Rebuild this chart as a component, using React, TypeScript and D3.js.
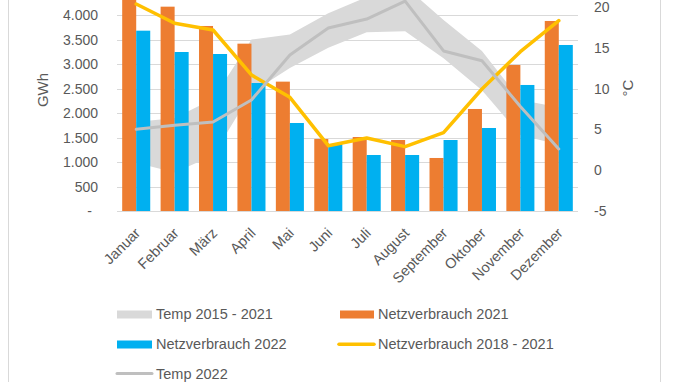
import React from "react";
import * as d3 from "d3";

const months = ["Januar","Februar","März","April","Mai","Juni","Juli","August","September","Oktober","November","Dezember"];
const netz2021 = [4400, 4170, 3776, 3415, 2640, 1470, 1510, 1449, 1082, 2082, 2980, 3878];
const netz2022 = [3680, 3245, 3204, 2612, 1796, 1365, 1143, 1143, 1449, 1694, 2572, 3388];
const netz2018_2021 = [4225, 3831, 3694, 2776, 2320, 1333, 1490, 1313, 1598, 2490, 3252, 3885];
const temp2022 = [5.0, 5.5, 5.9, 8.6, 14.1, 17.4, 18.5, 20.7, 14.6, 13.4, 7.8, 2.6];
const tempMin = [0.9, -0.3, 1.8, 9.5, 12.5, 15.0, 16.9, 17.0, 13.7, 9.8, 4.3, 3.1];
const tempMax = [5.9, 6.4, 8.7, 16.0, 16.6, 19.2, 21.2, 22.5, 18.4, 14.6, 8.6, 7.7];
const leftTicks = [0, 500, 1000, 1500, 2000, 2500, 3000, 3500, 4000, 4500, 5000];
const rightTicks = [-5, 0, 5, 10, 15, 20, 25];

const FONT = "'Liberation Sans', Arial, sans-serif";
const TXT = "#595959";

export default function App() {
  const W = 681, H = 382;
  const left = 117, right = 578, top = -34, bottom = 211;
  const x0 = d3.scaleBand<string>().domain(months).range([left, right]).paddingInner(0.27).paddingOuter(0.135);
  const x1 = d3.scaleBand<string>().domain(["a", "b"]).range([0, x0.bandwidth()]);
  const yL = d3.scaleLinear().domain([0, 5000]).range([bottom, top]);
  const yR = d3.scaleLinear().domain([-5, 25]).range([bottom, top]);
  const cx = (m: string) => (x0(m) as number) + x0.bandwidth() / 2;

  const band = d3.area<number>()
    .x((_, i) => cx(months[i]))
    .y0((_, i) => yR(tempMin[i]))
    .y1((_, i) => yR(tempMax[i]));
  const lineL = d3.line<number>().x((_, i) => cx(months[i])).y((d) => yL(d));
  const lineR = d3.line<number>().x((_, i) => cx(months[i])).y((d) => yR(d));

  const fmt = (v: number) => (v === 0 ? "-" : d3.format(",")(v).replace(/,/g, "."));
  // labels whose position lies above the visible canvas are not drawn (cropped in the reference)
  const visL = leftTicks.filter((t) => yL(t) > 6);
  const visR = rightTicks.filter((t) => yR(t) > 6);

  return (
    <svg width={W} height={H} style={{ position: "absolute", left: 0, top: 0, background: "#fff" }} fontFamily={FONT}>
      <rect x={0} y={0} width={W} height={H} fill="#fff" />
      <line x1={8.5} x2={8.5} y1={0} y2={H} stroke="#D9D9D9" />
      <line x1={660.5} x2={660.5} y1={0} y2={H} stroke="#D9D9D9" />
      {leftTicks.map((t) => (
        <line key={t} x1={left} x2={right} y1={Math.round(yL(t)) + 0.5} y2={Math.round(yL(t)) + 0.5} stroke="#D9D9D9" strokeWidth={1} />
      ))}
      <path d={band(temp2022) || ""} fill="#D9D9D9" />
      {months.map((m, i) => (
        <g key={m}>
          <rect x={(x0(m) as number) + (x1("a") as number)} y={yL(netz2021[i])} width={x1.bandwidth()} height={bottom - yL(netz2021[i])} fill="#ED7D31" />
          <rect x={(x0(m) as number) + (x1("b") as number)} y={yL(netz2022[i])} width={x1.bandwidth()} height={bottom - yL(netz2022[i])} fill="#00B0F0" />
        </g>
      ))}
      <path d={lineL(netz2018_2021) || ""} fill="none" stroke="#FFC000" strokeWidth={3.5} strokeLinejoin="round" strokeLinecap="round" />
      <path d={lineR(temp2022) || ""} fill="none" stroke="#BFBFBF" strokeWidth={3} strokeLinejoin="round" strokeLinecap="round" />
      {visL.map((t) => (
        <text key={t} x={t === 0 ? 92 : 98} y={yL(t)} textAnchor="end" dominantBaseline="central" fontSize={14} fill={TXT}>{fmt(t)}</text>
      ))}
      {visR.map((t) => (
        <text key={t} x={594} y={yR(t)} textAnchor="start" dominantBaseline="central" fontSize={14} fill={TXT}>{t}</text>
      ))}
      <text transform={`translate(48,90) rotate(-90)`} textAnchor="middle" fontSize={15} fill={TXT}>GWh</text>
      <text transform={`translate(633,88) rotate(-90)`} textAnchor="middle" fontSize={15} fill={TXT}>°C</text>
      {months.map((m) => (
        <text key={m} transform={`translate(${cx(m) + 5},${234}) rotate(-45)`} textAnchor="end" fontSize={14.5} fill={TXT}>{m}</text>
      ))}
      <g fontSize={14.5} fill={TXT}>
        <rect x={117} y={310.5} width={35} height={8} fill="#D9D9D9" />
        <text x={156} y={314} dominantBaseline="central">Temp 2015 - 2021</text>
        <rect x={340} y={310.5} width={34} height={8} fill="#ED7D31" />
        <text x={378} y={314} dominantBaseline="central">Netzverbrauch 2021</text>
        <rect x={117} y={340.5} width={35} height={8} fill="#00B0F0" />
        <text x={156} y={344} dominantBaseline="central">Netzverbrauch 2022</text>
        <line x1={339} x2={374} y1={344.3} y2={344.3} stroke="#FFC000" strokeWidth={3.5} strokeLinecap="round" />
        <text x={378} y={344} dominantBaseline="central">Netzverbrauch 2018 - 2021</text>
        <line x1={117} x2={152} y1={373.5} y2={373.5} stroke="#BFBFBF" strokeWidth={3} strokeLinecap="round" />
        <text x={156} y={374} dominantBaseline="central">Temp 2022</text>
      </g>
    </svg>
  );
}
